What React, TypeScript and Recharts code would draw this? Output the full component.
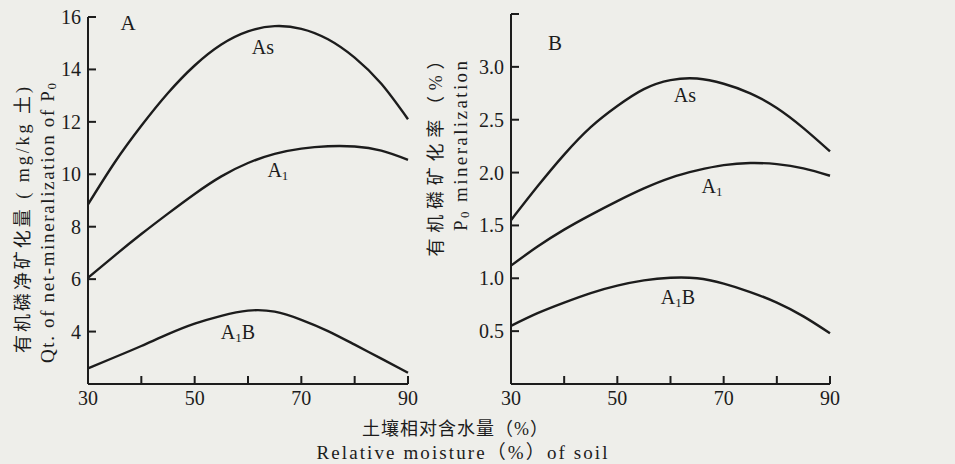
import React from "react";
import { LineChart, Line, XAxis, YAxis, ReferenceDot } from "recharts";

// relative soil moisture (%), read every 5 units
const moisture = [30, 35, 40, 45, 50, 55, 60, 65, 70, 75, 80, 85, 90];
const moistureTicks = [30, 40, 50, 60, 70, 80, 90];

// panel A: net mineralization of Po (mg/kg soil)
const aAs = [8.85, 10.45, 11.85, 13.1, 14.15, 14.95, 15.45, 15.65, 15.55, 15.15, 14.45, 13.45, 12.1];
const aA1 = [6.05, 6.9, 7.72, 8.5, 9.25, 9.92, 10.43, 10.78, 10.98, 11.07, 11.06, 10.9, 10.55];
const aA1B = [2.6, 3.02, 3.45, 3.9, 4.3, 4.6, 4.8, 4.76, 4.45, 4.02, 3.5, 2.97, 2.43];
const aTicks = [4, 6, 8, 10, 12, 14, 16];

// panel B: Po mineralization rate (%)
const bAs = [1.55, 1.87, 2.17, 2.43, 2.63, 2.79, 2.875, 2.89, 2.84, 2.75, 2.61, 2.42, 2.2];
const bA1 = [1.12, 1.3, 1.46, 1.6, 1.73, 1.85, 1.95, 2.02, 2.07, 2.09, 2.08, 2.04, 1.97];
const bA1B = [0.55, 0.67, 0.77, 0.86, 0.93, 0.98, 1.005, 1.0, 0.95, 0.87, 0.77, 0.64, 0.48];
const bTicks = [0.5, 1, 1.5, 2, 2.5, 3, 3.5];

const INK = "#1c1c1c";
const PAPER = "#eeeeea";
const SERIF = "'Liberation Serif', 'DejaVu Serif', 'Noto Sans CJK SC', serif";
const MARGIN = 10; // gap recharts leaves between axis line and tick position
const TICK = 8;

const rowsA = moisture.map((m, i) => ({ m, as: aAs[i], a1: aA1[i], a1b: aA1B[i] }));
const rowsB = moisture.map((m, i) => ({ m, as: bAs[i], a1: bA1[i], a1b: bA1B[i] }));

// inward tick marks, labels only on 30/50/70/90
function XTick(props: any) {
  const { x, y, payload } = props;
  const axisY = y - MARGIN;
  const labelled = payload.value % 20 === 10;
  return (
    <g>
      <path d={`M${x},${axisY}V${axisY - TICK}`} stroke={INK} strokeWidth={2} fill="none" />
      {labelled && (
        <text x={x} y={axisY + 21} textAnchor="middle" fontFamily={SERIF} fontSize={20} fill={INK}>
          {payload.value}
        </text>
      )}
    </g>
  );
}

function makeYTick(fmt: (v: number) => string) {
  return (props: any) => {
    const { x, y, payload } = props;
    const axisX = x + MARGIN;
    return (
      <g>
        <path d={`M${axisX},${y}H${axisX + TICK}`} stroke={INK} strokeWidth={2} fill="none" />
        <text
          x={axisX - 7}
          y={y}
          textAnchor="end"
          dominantBaseline="central"
          fontFamily={SERIF}
          fontSize={20}
          fill={INK}
        >
          {fmt(payload.value)}
        </text>
      </g>
    );
  };
}

function tag(main: string, sub?: string, tail?: string) {
  return (props: any) => {
    const { x, y } = props.viewBox;
    return (
      <text
        x={x}
        y={y}
        textAnchor="middle"
        dominantBaseline="central"
        fontFamily={SERIF}
        fontSize={20}
        fill={INK}
      >
        {main}
        {sub && (
          <tspan fontSize={13} dy={5}>
            {sub}
          </tspan>
        )}
        {tail && <tspan dy={-5}>{tail}</tspan>}
      </text>
    );
  };
}

function xAxis() {
  return (
    <XAxis
      dataKey="m"
      type="number"
      domain={[30, 90]}
      ticks={moistureTicks}
      interval={0}
      height={30}
      tickSize={0}
      tickMargin={MARGIN}
      axisLine={{ stroke: INK, strokeWidth: 2 }}
      tickLine={false}
      tick={<XTick />}
    />
  );
}

function curves() {
  return ["as", "a1", "a1b"].map((k) => (
    <Line
      key={k}
      dataKey={k}
      type="natural"
      stroke={INK}
      strokeWidth={2.4}
      dot={false}
      isAnimationActive={false}
    />
  ));
}

export default function App() {
  return (
    <div
      style={{
        position: "absolute",
        left: 0,
        top: 0,
        width: 955,
        height: 464,
        background: PAPER,
        overflow: "hidden",
      }}
    >
      <div style={{ position: "absolute", left: 0, top: 0 }}>
        <LineChart width={430} height={420} data={rowsA} margin={{ top: 17, right: 22, bottom: 6, left: 48 }}>
          {xAxis()}
          <YAxis
            type="number"
            domain={[2, 16]}
            ticks={aTicks}
            interval={0}
            width={40}
            tickSize={0}
            tickMargin={MARGIN}
            axisLine={{ stroke: INK, strokeWidth: 2 }}
            tickLine={false}
            tick={makeYTick((v) => String(v))}
          />
          {curves()}
          <ReferenceDot x={62.8} y={14.85} r={0} label={tag("As")} />
          <ReferenceDot x={65.6} y={10.16} r={0} label={tag("A", "1")} />
          <ReferenceDot x={58.1} y={3.98} r={0} label={tag("A", "1", "B")} />
        </LineChart>
      </div>

      <div style={{ position: "absolute", left: 460, top: 0 }}>
        <LineChart width={380} height={420} data={rowsB} margin={{ top: 14, right: 10, bottom: 6, left: 11 }}>
          {xAxis()}
          <YAxis
            type="number"
            domain={[0, 3.5]}
            ticks={bTicks}
            interval={0}
            width={40}
            tickSize={0}
            tickMargin={MARGIN}
            axisLine={{ stroke: INK, strokeWidth: 2 }}
            tickLine={false}
            tick={makeYTick((v) => (v === 3.5 ? "" : v.toFixed(1)))}
          />
          {curves()}
          <ReferenceDot x={62.7} y={2.73} r={0} label={tag("As")} />
          <ReferenceDot x={67.8} y={1.87} r={0} label={tag("A", "1")} />
          <ReferenceDot x={61.4} y={0.82} r={0} label={tag("A", "1", "B")} />
        </LineChart>
      </div>

      {/* axis titles and panel letters */}
      <svg
        width={955}
        height={464}
        style={{ position: "absolute", left: 0, top: 0, pointerEvents: "none" }}
      >
        <g fontFamily={SERIF} fill={INK}>
          <text x={128} y={23} fontSize={21} textAnchor="middle" dominantBaseline="central">
            A
          </text>
          <text x={555} y={43} fontSize={21} textAnchor="middle" dominantBaseline="central">
            B
          </text>

          <text
            transform="translate(23,220) rotate(-90)"
            fontSize={18}
            textAnchor="middle"
            dominantBaseline="central"
            textLength={266}
            lengthAdjust="spacing"
          >
            有机磷净矿化量 ( mg/kg 土)
          </text>
          <text
            transform="translate(47,223) rotate(-90)"
            fontSize={19}
            textAnchor="middle"
            dominantBaseline="central"
            textLength={280}
            lengthAdjust="spacing"
          >
            Qt. of net-mineralization of P
            <tspan fontSize={13} dy={4}>
              0
            </tspan>
          </text>

          <text
            transform="translate(436,154) rotate(-90)"
            fontSize={18}
            textAnchor="middle"
            dominantBaseline="central"
            textLength={205}
            lengthAdjust="spacing"
          >
            有机磷矿化率（%）
          </text>
          <text
            transform="translate(460,146) rotate(-90)"
            fontSize={19}
            textAnchor="middle"
            dominantBaseline="central"
            textLength={170}
            lengthAdjust="spacing"
          >
            P
            <tspan fontSize={13} dy={4}>
              0
            </tspan>
            <tspan dy={-4}> mineralization</tspan>
          </text>

          <text
            x={455}
            y={429}
            fontSize={18}
            textAnchor="middle"
            dominantBaseline="central"
            textLength={186}
            lengthAdjust="spacing"
          >
            土壤相对含水量（%）
          </text>
          <text
            x={462}
            y={452}
            fontSize={19}
            textAnchor="middle"
            dominantBaseline="central"
            textLength={291}
            lengthAdjust="spacing"
          >
            Relative moisture（%）of soil
          </text>
        </g>
      </svg>
    </div>
  );
}
